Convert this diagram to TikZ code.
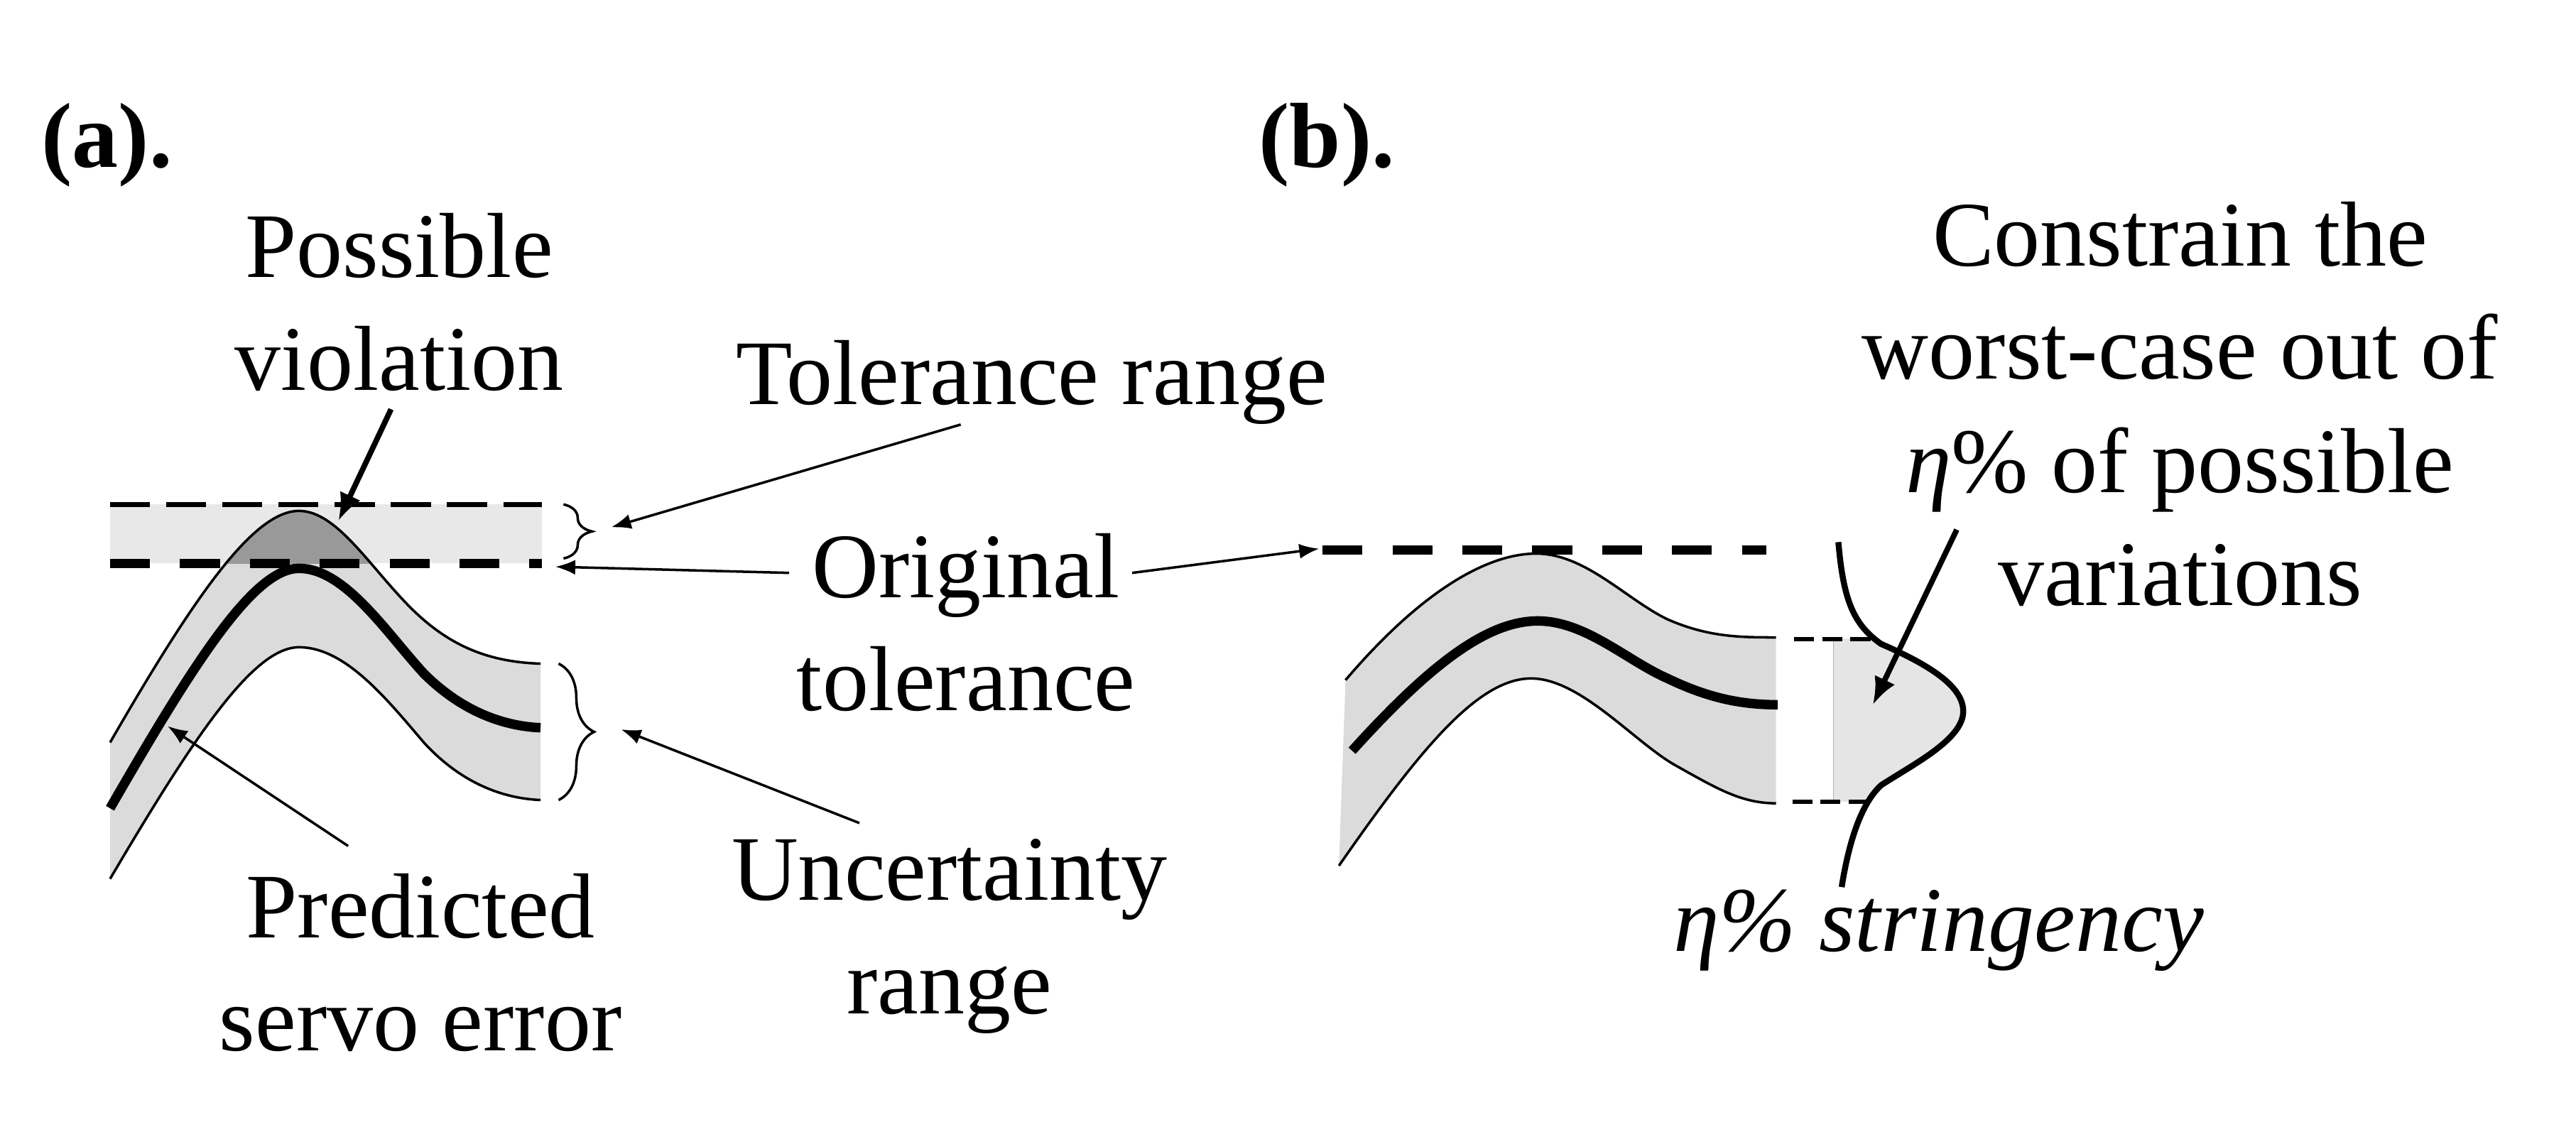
\documentclass[tikz,border=0pt]{standalone}
\usepackage{fontspec}
\setmainfont{Liberation Serif}
\usetikzlibrary{arrows.meta,decorations.pathreplacing}

\definecolor{tolgray}{gray}{0.91}
\definecolor{bandgray}{gray}{0.86}
\definecolor{violgray}{gray}{0.6}
\definecolor{distgray}{gray}{0.9}

\newcommand{\bigfont}{\fontsize{37}{45.4}\selectfont}

% servo error curves of panel (a)
\newcommand{\upperA}{(67,452) .. controls (120,360) and (155,311) .. (182,311) .. controls (205,311) and (225,345) .. (250,370) .. controls (275,395) and (300,403) .. (329,404)}
\newcommand{\middleA}{(67,492) .. controls (120,400) and (155,346) .. (182,346) .. controls (210,346) and (235,385) .. (258,410) .. controls (280,432) and (305,442) .. (329,443)}
\newcommand{\lowerA}{(67,535) .. controls (120,445) and (155,394) .. (182,394) .. controls (210,394) and (235,425) .. (258,452) .. controls (280,476) and (305,486) .. (329,487)}
\newcommand{\lowerArev}{(329,487) .. controls (305,486) and (280,476) .. (258,452) .. controls (235,425) and (210,394) .. (182,394) .. controls (155,394) and (120,445) .. (67,535)}

% servo error curves of panel (b)
\newcommand{\upperB}{(819,414) .. controls (865,360) and (905,337) .. (935,337) .. controls (965,337) and (990,365) .. (1015,377) .. controls (1040,388) and (1060,388) .. (1081,388)}
\newcommand{\middleB}{(823,457) .. controls (870,405) and (905,378) .. (936,378) .. controls (965,378) and (990,402) .. (1015,413) .. controls (1040,425) and (1060,429) .. (1082,429)}
\newcommand{\lowerB}{(815,527) .. controls (865,455) and (900,413) .. (932,413) .. controls (962,413) and (995,452) .. (1020,466) .. controls (1045,480) and (1060,489) .. (1081,489)}
\newcommand{\lowerBrev}{(1081,489) .. controls (1060,489) and (1045,480) .. (1020,466) .. controls (995,452) and (962,413) .. (932,413) .. controls (900,413) and (865,455) .. (815,527)}

% distribution of the variations
\newcommand{\distpath}{(1119,330) .. controls (1122,365) and (1128,380) .. (1145,392) .. controls (1175,405) and (1195,418) .. (1195,433) .. controls (1195,450) and (1165,465) .. (1145,478) .. controls (1132,490) and (1125,515) .. (1121,540)}

\tikzset{
  txt/.style={font=\bigfont, inner sep=0pt, align=center},
  thinarrow/.style={line width=1pt, -{Latex[length=8pt,width=6pt]}},
  thickarrow/.style={line width=2.2pt, -{Latex[length=11pt,width=9pt]}},
  thincurve/.style={line width=1pt},
  thickcurve/.style={line width=3.8pt},
  toldash/.style={line width=2pt, dash pattern=on 16pt off 6.5pt},
  origdash/.style={line width=3.7pt, dash pattern=on 16pt off 12pt},
  shortdash/.style={line width=1.6pt, dash pattern=on 8pt off 3.3pt},
  rbrace/.style={decorate, decoration={brace,amplitude=#1}, line width=1pt},
}

\begin{document}
\begin{tikzpicture}[x=0.02313cm, y=-0.02313cm]

  \useasboundingbox (0,0) rectangle (1568,689);

  % panel (a): tolerance band and uncertainty band
  \fill[tolgray] (67,307) rectangle (330,343);
  \fill[bandgray] \upperA -- \lowerArev -- cycle;
  \begin{scope}
    \clip (67,307) rectangle (330,343);
    \fill[violgray] \upperA -- \lowerArev -- cycle;
  \end{scope}
  \draw[thincurve] \upperA;
  \draw[thincurve] \lowerA;
  \draw[thickcurve] \middleA;
  \draw[toldash] (67,307) -- (330,307);
  \draw[origdash] (67,343) -- (330,343);

  \draw[rbrace=0.4cm] (343,307) -- (343,340);
  \draw[rbrace=0.5cm] (340,404) -- (340,487);

  % panel (b): band, original tolerance and distribution
  \fill[bandgray] \upperB -- \lowerBrev -- cycle;
  \draw[thincurve] \upperB;
  \draw[thincurve] \lowerB;
  \draw[thickcurve] \middleB;
  \draw[origdash] (805,335) -- (1075,335);

  \begin{scope}
    \clip (1116,389) rectangle (1210,488);
    \fill[distgray] (1116,330) -- \distpath -- (1116,540) -- cycle;
  \end{scope}
  \draw[gray!60, line width=0.5pt] (1116,389) -- (1116,488);
  \draw[shortdash] (1092,389) -- (1140,389);
  \draw[shortdash] (1091,488) -- (1138,488);
  \draw[line width=2.4pt] \distpath;

  % labels
  \node[txt, font=\bigfont\bfseries, anchor=base west] (panelA) at (25,102) {(a).};
  \node[txt, font=\bigfont\bfseries, anchor=base west] (panelB) at (766,102) {(b).};
  \node[txt] (violation) at (243,184) {Possible\\violation};
  \node[txt, anchor=base] (tolrange) at (628,246) {Tolerance range};
  \node[txt] (origtol) at (588,379) {Original\\tolerance};
  \node[txt] (predicted) at (256,586) {Predicted\\servo error};
  \node[txt] (uncert) at (578,570) {Uncertainty\\range};
  \node[txt] (constrain) at (1327,246) {Constrain the\\worst-case out of\\{\itshape η}\% of possible\\variations};
  \node[txt, font=\bigfont\itshape, anchor=base] (stringency) at (1180,579) {η\% stringency};

  % arrow tips
  \coordinate (violTip) at (206,317);
  \coordinate (tolTip) at (372,321);
  \coordinate (origTipA) at (338,345);
  \coordinate (origTipB) at (803,334);
  \coordinate (predTip) at (102,442);
  \coordinate (uncTip) at (378,444);
  \coordinate (constrTip) at (1140,429);

  \draw[thickarrow, shorten <=0.27cm] (violation.south) -- (violTip);
  \draw[thinarrow] ([xshift=-1cm]tolrange.south) -- (tolTip);
  \draw[thinarrow] ([xshift=-0.1cm,yshift=0.7cm]origtol.west) -- (origTipA);
  \draw[thinarrow] ([xshift=-0.05cm,yshift=0.7cm]origtol.east) -- (origTipB);
  \draw[thinarrow] ([xshift=-1.02cm,yshift=0.38cm]predicted.north) -- (predTip);
  \draw[thinarrow] ([xshift=-1.27cm,yshift=0.22cm]uncert.north) -- (uncTip);
  \draw[thickarrow] ([xshift=1.34cm,yshift=1.09cm]constrain.south west) -- (constrTip);

\end{tikzpicture}
\end{document}
